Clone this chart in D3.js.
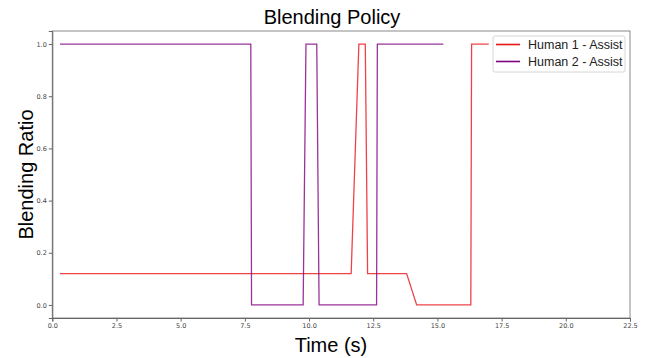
<!DOCTYPE html>
<html>
<head>
<meta charset="utf-8">
<script src="https://cdn.jsdelivr.net/npm/d3@7"></script>
<style>
  body { margin: 0; background: #fff; }
  svg { display: block; font-family: "Liberation Sans", Arial, sans-serif; }
</style>
</head>
<body>
<div id="chart"></div>
<script>
// time (s) and blending ratio for each series
const human1Time  = [0.3, 11.64, 11.94, 12.19, 12.28, 13.80, 14.19, 16.30, 16.33, 17.0];
const human1Ratio = [0.12, 0.12, 1.0, 1.0, 0.12, 0.12, 0.0, 0.0, 1.0, 1.0];
const human2Time  = [0.3, 7.73, 7.76, 9.77, 9.88, 10.30, 10.39, 12.63, 12.66, 15.23];
const human2Ratio = [1.0, 1.0, 0.0, 0.0, 1.0, 1.0, 0.0, 0.0, 1.0, 1.0];
const seriesNames = ['Human 1 - Assist', 'Human 2 - Assist'];
const seriesColors = ['#e8141a', '#800080'];
const xTicks = [0, 2.5, 5, 7.5, 10, 12.5, 15, 17.5, 20, 22.5];
const yTicks = [0, 0.2, 0.4, 0.6, 0.8, 1.0];

const W = 649, H = 358;
const margin = {top: 31, right: 19, bottom: 40, left: 52.3};
const width = W - margin.left - margin.right;
const height = H - margin.top - margin.bottom;

const svg = d3.select('#chart').append('svg')
    .attr('width', W)
    .attr('height', H);

const g = svg.append('g')
    .attr('transform', 'translate(' + margin.left + ',' + margin.top + ')');

const x = d3.scaleLinear().domain([0, 22.5]).range([0, width]);
const y = d3.scaleLinear().domain([-0.05, 1.05]).range([height, 0]);

// lines
const line = d3.line()
    .x(d => x(d[0]))
    .y(d => y(d[1]));

const series = [
  d3.zip(human1Time, human1Ratio),
  d3.zip(human2Time, human2Ratio)
];

series.forEach((s, i) => {
  g.append('path')
      .datum(s)
      .attr('fill', 'none')
      .attr('stroke', seriesColors[i])
      .attr('stroke-opacity', 0.8)
      .attr('stroke-width', 1.3)
      .attr('d', line);
});

// frame
g.append('rect')
    .attr('width', width)
    .attr('height', height)
    .attr('fill', 'none')
    .attr('stroke', '#8a8a8a')
    .attr('stroke-width', 1);

// axes
const xAxis = g.append('g')
    .attr('transform', 'translate(0,' + height + ')')
    .call(d3.axisBottom(x).tickValues(xTicks).tickFormat(d3.format('.1f')).tickSize(3.5).tickPadding(2));

const yAxis = g.append('g')
    .call(d3.axisLeft(y).tickValues(yTicks).tickFormat(d3.format('.1f')).tickSize(3.5).tickPadding(2));

[xAxis, yAxis].forEach(a => {
  a.select('.domain').attr('stroke', '#666');
  a.selectAll('.tick line').attr('stroke', '#666');
  a.selectAll('.tick text')
      .attr('fill', '#444')
      .style('font-family', '"DejaVu Sans", sans-serif')
      .style('font-size', '6.5px');
});

// title and labels
svg.append('text')
    .attr('x', 332)
    .attr('y', 24)
    .attr('text-anchor', 'middle')
    .style('font-size', '20px')
    .text('Blending Policy');

svg.append('text')
    .attr('x', 331)
    .attr('y', 352)
    .attr('text-anchor', 'middle')
    .style('font-size', '20px')
    .text('Time (s)');

svg.append('text')
    .attr('transform', 'translate(33,' + (margin.top + height / 2) + ') rotate(-90)')
    .attr('text-anchor', 'middle')
    .style('font-size', '20px')
    .text('Blending Ratio');

// legend
const legend = svg.append('g')
    .attr('transform', 'translate(493,36)');

legend.append('rect')
    .attr('width', 132)
    .attr('height', 36)
    .attr('rx', 2)
    .attr('fill', '#fff')
    .attr('fill-opacity', 0.9)
    .attr('stroke', '#d6d6d6');

seriesNames.forEach((name, i) => {
  const row = legend.append('g')
      .attr('transform', 'translate(0,' + (8.5 + i * 17) + ')');
  row.append('line')
      .attr('x1', 3).attr('x2', 27)
      .attr('stroke', seriesColors[i])
      .attr('stroke-width', 1.6);
  row.append('text')
      .attr('x', 35)
      .attr('dy', '0.35em')
      .style('font-size', '12.5px')
      .attr('fill', '#222')
      .text(name);
});
</script>
</body>
</html>
